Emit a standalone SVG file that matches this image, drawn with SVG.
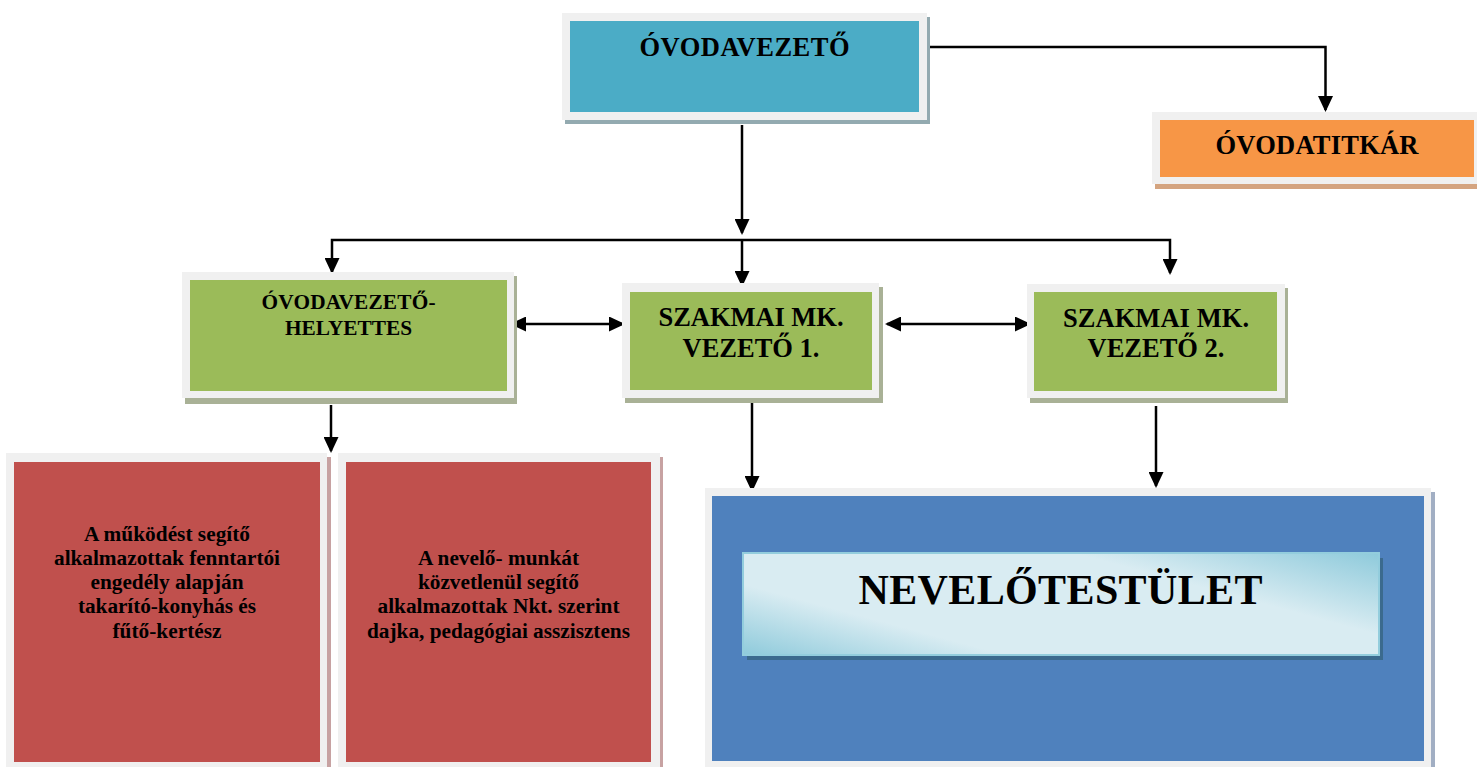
<svg xmlns="http://www.w3.org/2000/svg" width="1477" height="767" viewBox="0 0 1477 767">
<style>
  .t { font-family: "Liberation Serif", "Times New Roman", serif; font-weight: bold; fill: #000; text-anchor: middle; }
  .big { font-size: 26.5px; }
  .mid { font-size: 21.3px; }
  .sm { font-size: 21.3px; }
  .huge { font-size: 42px; }
  .frame { fill: #f0f0f0; }
  .conn { fill: none; stroke: #000; stroke-width: 2.5; }
</style>
<defs>
  <marker id="ah" viewBox="0 0 16 15" refX="14" refY="7.5" markerWidth="16" markerHeight="15" markerUnits="userSpaceOnUse" orient="auto-start-reverse">
    <path d="M0,0 L16,7.5 L0,15 z" fill="#000"/>
  </marker>
  <linearGradient id="ng" gradientUnits="userSpaceOnUse" x1="742" y1="655" x2="810.6" y2="400">
    <stop offset="0" stop-color="#8ecadb"/>
    <stop offset="0.26" stop-color="#d9ecf2"/>
    <stop offset="0.7" stop-color="#d9ecf2"/>
    <stop offset="1" stop-color="#8ecadb"/>
  </linearGradient>
</defs>
<rect width="1477" height="767" fill="#fff"/>

<g id="conns">
  <path class="conn" d="M923,47 H1325.5 V110" marker-end="url(#ah)"/>
  <path class="conn" d="M742,125 V233" marker-end="url(#ah)"/>
  <path class="conn" d="M332,272 V240 H1170 V273" marker-start="url(#ah)" marker-end="url(#ah)"/>
  <path class="conn" d="M742,240 V285" marker-end="url(#ah)"/>
  <path class="conn" d="M512,324 H623" marker-start="url(#ah)" marker-end="url(#ah)"/>
  <path class="conn" d="M887,324 H1029" marker-start="url(#ah)" marker-end="url(#ah)"/>
  <path class="conn" d="M331,405 V451" marker-end="url(#ah)"/>
  <path class="conn" d="M752,398 V490" marker-end="url(#ah)"/>
  <path class="conn" d="M1156,406 V486" marker-end="url(#ah)"/>
</g>

<g id="ovodavezeto">
  <rect x="565" y="17" width="365" height="107" fill="#93aab0"/>
  <rect class="frame" x="562" y="13" width="365" height="107"/>
  <rect x="570" y="21" width="349" height="91" fill="#4bacc6"/>
  <text class="t big" x="744.5" y="56" textLength="210">ÓVODAVEZETŐ</text>
</g>

<g id="ovodatitkar">
  <rect x="1155" y="117" width="330" height="72" fill="#d4a480"/>
  <rect class="frame" x="1152" y="112" width="330" height="72"/>
  <rect x="1160" y="120" width="314" height="57" fill="#f79646"/>
  <text class="t big" x="1317" y="154" textLength="203">ÓVODATITKÁR</text>
</g>

<g id="helyettes">
  <rect x="185" y="276" width="332" height="128" fill="#a9b196"/>
  <rect class="frame" x="182" y="272" width="332" height="126"/>
  <rect x="190" y="280" width="317" height="111" fill="#9bbb59"/>
  <text class="t mid" x="348.5" y="309" textLength="174">ÓVODAVEZETŐ-</text>
  <text class="t mid" x="348.5" y="335">HELYETTES</text>
</g>

<g id="szakmai1">
  <rect x="625" y="287" width="258" height="116" fill="#a9b196"/>
  <rect class="frame" x="622" y="283" width="257" height="115"/>
  <rect x="630" y="292" width="242" height="98" fill="#9bbb59"/>
  <text class="t big" x="751" y="326" textLength="185">SZAKMAI MK.</text>
  <text class="t big" x="751" y="357">VEZETŐ 1.</text>
</g>

<g id="szakmai2">
  <rect x="1030" y="288" width="258" height="115" fill="#a9b196"/>
  <rect class="frame" x="1027" y="284" width="258" height="114"/>
  <rect x="1034" y="292" width="243" height="99" fill="#9bbb59"/>
  <text class="t big" x="1156" y="327" textLength="186">SZAKMAI MK.</text>
  <text class="t big" x="1156" y="357">VEZETŐ 2.</text>
</g>

<g id="mukodest">
  <rect x="9" y="457" width="322" height="312" fill="#c7a2a2"/>
  <rect class="frame" x="6" y="453" width="321" height="316"/>
  <rect x="14" y="462" width="306" height="300" fill="#c0504d"/>
  <text class="t sm" x="167" y="541" textLength="166">A működést segítő</text>
  <text class="t sm" x="167" y="565" textLength="226">alkalmazottak fenntartói</text>
  <text class="t sm" x="167" y="589" textLength="153">engedély alapján</text>
  <text class="t sm" x="167" y="613" textLength="178">takarító-konyhás és</text>
  <text class="t sm" x="167" y="638" textLength="109">fűtő-kertész</text>
</g>

<g id="nevelo-munka">
  <rect x="340" y="457" width="323" height="312" fill="#c7a2a2"/>
  <rect class="frame" x="338" y="453" width="322" height="316"/>
  <rect x="346" y="462" width="305" height="300" fill="#c0504d"/>
  <text class="t sm" x="498.5" y="565" textLength="161">A nevelő- munkát</text>
  <text class="t sm" x="498.5" y="589" textLength="161">közvetlenül segítő</text>
  <text class="t sm" x="498.5" y="613" textLength="242">alkalmazottak Nkt. szerint</text>
  <text class="t sm" x="498.5" y="638" textLength="263">dajka, pedagógiai asszisztens</text>
</g>

<g id="nevelotestulet">
  <rect x="708" y="492" width="727" height="280" fill="#a1aec3"/>
  <rect class="frame" x="705" y="488" width="726" height="285"/>
  <rect x="712" y="496" width="712" height="265" fill="#4f81bd"/>
  <rect x="747" y="558" width="636" height="102" fill="#3b6a8e"/>
  <rect x="743" y="553" width="636" height="102" fill="url(#ng)" stroke="#93cddd" stroke-width="2"/>
  <text class="t huge" x="1060.5" y="604" textLength="404">NEVELŐTESTÜLET</text>
</g>
</svg>
